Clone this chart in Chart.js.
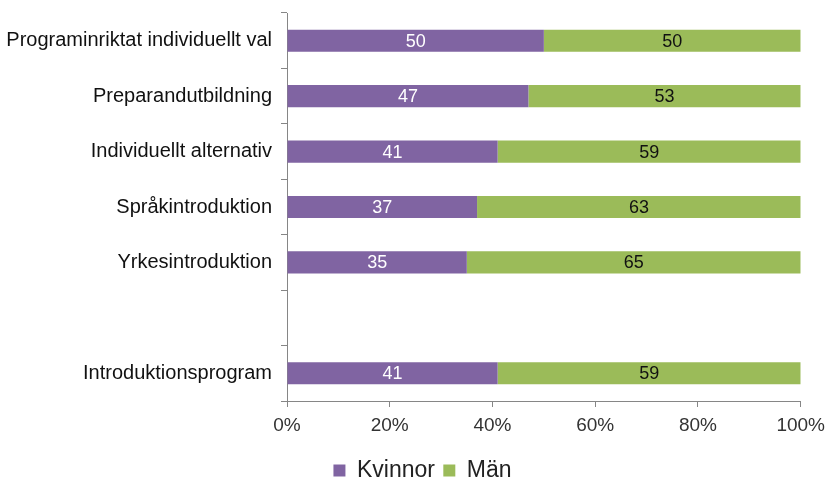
<!DOCTYPE html>
<html>
<head>
<meta charset="utf-8">
<script src="https://cdn.jsdelivr.net/npm/chart.js@4"></script>
<style>
  html, body { margin: 0; padding: 0; background: #fff; }
  #wrap { width: 832px; height: 482px; }
</style>
</head>
<body>
<div id="wrap"><canvas id="chart"></canvas></div>
<script>
// Data
const kategorier = ['Programinriktat individuellt val', 'Preparandutbildning', 'Individuellt alternativ', 'Språkintroduktion', 'Yrkesintroduktion', '', 'Introduktionsprogram'];
const kvinnor = [50, 47, 41, 37, 35, null, 41];
const man = [50, 53, 59, 63, 65, null, 59];
const xTicks = [0, 20, 40, 60, 80, 100];

const axisColor = '#868686';
const fontFam = '"Liberation Sans", Arial, sans-serif';

// etiketter mitt i staplarna
const barLabels = {
  id: 'barLabels',
  afterDatasetsDraw(chart) {
    const ctx = chart.ctx;
    ctx.save();
    ctx.font = '18px ' + fontFam;
    ctx.textAlign = 'center';
    ctx.textBaseline = 'middle';
    chart.data.datasets.forEach((ds, i) => {
      const meta = chart.getDatasetMeta(i);
      meta.data.forEach((bar, j) => {
        const v = ds.data[j];
        if (v == null) return;
        const p = bar.getProps(['x', 'y', 'base']);
        ctx.fillStyle = ds.labelColor;
        ctx.fillText(String(v), (p.x + p.base) / 2, p.y + 1);
      });
    });
    ctx.restore();
  }
};

// flytta legenden lite nedåt/åt höger
const legendShift = {
  id: 'legendShift',
  afterLayout(chart) {
    const lg = chart.legend;
    lg.top += 10; lg.bottom += 10;
    lg.left += 20; lg.right += 20;
  }
};

const ctx = document.getElementById('chart').getContext('2d');
const chart = new Chart(ctx, {
  type: 'bar',
  data: {
    labels: kategorier,
    datasets: [
      {
        label: 'Kvinnor',
        data: kvinnor,
        backgroundColor: '#8064A2',
        labelColor: '#ffffff',
        barPercentage: 0.4,
        categoryPercentage: 1.0
      },
      {
        label: 'Män',
        data: man,
        backgroundColor: '#9BBB59',
        labelColor: '#111111',
        barPercentage: 0.4,
        categoryPercentage: 1.0
      }
    ]
  },
  options: {
    indexAxis: 'y',
    responsive: true,
    maintainAspectRatio: false,
    animation: false,
    layout: { padding: { top: 13, right: 27, left: 0, bottom: 0 } },
    plugins: {
      legend: {
        position: 'bottom',
        labels: {
          font: { size: 23, family: fontFam, lineHeight: 1.0 },
          color: '#222',
          boxWidth: 12,
          boxHeight: 12,
          padding: 2,
          generateLabels(chart) {
            const items = Chart.defaults.plugins.legend.labels.generateLabels(chart);
            items[0].text = items[0].text + ' ';
            return items;
          }
        }
      },
      tooltip: { enabled: false }
    },
    scales: {
      x: {
        stacked: true,
        min: 0,
        max: 100,
        afterBuildTicks(scale) {
          scale.ticks = xTicks.map(v => ({ value: v }));
        },
        afterFit(scale) { scale.height = 46; },
        border: { color: axisColor },
        grid: { drawOnChartArea: false, drawTicks: true, tickLength: 6, tickColor: axisColor },
        ticks: {
          callback: v => v + '%',
          font: { size: 19, family: fontFam },
          color: '#333',
          padding: 7
        }
      },
      y: {
        stacked: true,
        afterFit(scale) {
          scale.width = 287;
          scale.paddingTop = 0;
          scale.paddingBottom = 0;
        },
        border: { color: axisColor },
        grid: { drawOnChartArea: false, drawTicks: true, tickLength: 6, tickColor: axisColor },
        ticks: {
          font: { size: 20, family: fontFam },
          color: '#111',
          padding: 9
        }
      }
    }
  },
  plugins: [barLabels, legendShift]
});
</script>
</body>
</html>
